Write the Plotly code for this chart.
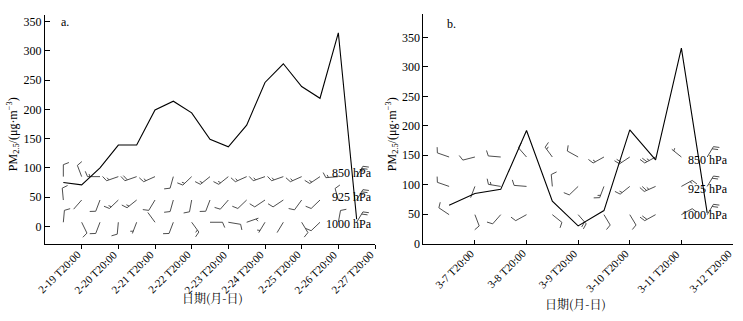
import math
import pandas as pd
import plotly.graph_objects as go

W, H = 743, 321

# ---------------- data ----------------
left_times = ["02-19 08:00", "02-19 20:00", "02-20 08:00", "02-20 20:00", "02-21 08:00",
              "02-21 20:00", "02-22 08:00", "02-22 20:00", "02-23 08:00", "02-23 20:00",
              "02-24 08:00", "02-24 20:00", "02-25 08:00", "02-25 20:00", "02-26 08:00",
              "02-26 20:00", "02-27 08:00"]
left_pm25 = [75, 71, 100, 139, 139, 199, 214, 194, 149, 136, 173, 246, 278, 239, 219, 331, 12]
left_tick_times = ["02-19 20:00", "02-20 20:00", "02-21 20:00", "02-22 20:00", "02-23 20:00",
                   "02-24 20:00", "02-25 20:00", "02-26 20:00", "02-27 20:00"]
left_tick_text = ["2-19 T20:00", "2-20 T20:00", "2-21 T20:00", "2-22 T20:00", "2-23 T20:00",
                  "2-24 T20:00", "2-25 T20:00", "2-26 T20:00", "2-27 T20:00"]
left_origin, left_end = "02-18 20:00", "02-27 20:00"

left_850_dir = [0, 340, 270, 250, 250, 245, 195, 225, 230, 230, 245, 250, 250, 245, 235, 265, 30]
left_850_spd = [4, 4, 6, 6, 8, 6, 4, 6, 6, 6, 6, 6, 6, 6, 6, 6, 10]
left_925_dir = [355, 220, 200, 225, 230, 210, 195, 190, 200, 220, 225, 235, 235, 215, 225, 345, 30]
left_925_spd = [4, 1, 4, 6, 6, 4, 4, 4, 4, 4, 4, 4, 4, 4, 4, 4, 10]
left_1000_dir = [5, 155, 200, 185, 200, 325, 200, 145, 90, 100, 70, 210, 210, 150, 225, 10, 30]
left_1000_spd = [4, 4, 4, 4, 2, 1, 4, 6, 4, 4, 2, 2, 1, 4, 4, 4, 8]

right_times = ["03-07 08:00", "03-07 20:00", "03-08 08:00", "03-08 20:00", "03-09 08:00",
               "03-09 20:00", "03-10 08:00", "03-10 20:00", "03-11 08:00", "03-11 20:00",
               "03-12 08:00"]
right_pm25 = [65, 85, 92, 192, 72, 30, 56, 193, 142, 332, 52]
right_tick_times = ["03-07 20:00", "03-08 20:00", "03-09 20:00", "03-10 20:00",
                    "03-11 20:00", "03-12 20:00"]
right_tick_text = ["3-7 T20:00", "3-8 T20:00", "3-9 T20:00", "3-10 T20:00",
                   "3-11 T20:00", "3-12 T20:00"]
right_origin, right_end = "03-06 20:00", "03-12 20:00"

right_850_dir = [290, 255, 275, 320, 325, 300, 240, 235, 240, 310, 30]
right_850_spd = [4, 4, 4, 4, 6, 4, 6, 8, 10, 2, 8]
right_925_dir = [290, 200, 280, 275, 355, 225, 200, 230, 245, 60, 30]
right_925_spd = [4, 1, 6, 4, 4, 4, 6, 6, 10, 6, 8]
right_1000_dir = [305, 160, 220, 240, 130, 140, 150, 150, 240, 60, 30]
right_1000_spd = [4, 4, 4, 4, 4, 8, 4, 4, 8, 4, 8]

levels = ["850 hPa", "925 hPa", "1000 hPa"]
left_level_y = [85, 45, 7]
right_level_y = [147, 97, 49]
left_label_y = [92, 50, 4]
right_label_y = [142, 93, 48]

left_yticks = [0, 50, 100, 150, 200, 250, 300, 350]
right_yticks = [0, 50, 100, 150, 200, 250, 300, 350]

# ---------------- geometry ----------------
left_xdom = [45 / W, 375 / W]
right_xdom = [423.3 / W, 733 / W]
left_ydom = [(H - 248.3) / H, (H - 8) / H]
right_ydom = [(H - 247.3) / H, (H - 7.3) / H]
left_yrange = [-31, 362]
right_yrange = [0, 390]

SERIF = "Liberation Serif, Times New Roman, Times, DejaVu Serif, serif"
CJK = "Noto Serif CJK SC, Noto Sans CJK SC, sans-serif"


def days(t, origin):
    return (pd.Timestamp("2014-" + t) - pd.Timestamp("2014-" + origin)) / pd.Timedelta(days=1)


def barbs(xs, y0, dirs, spds, px_x, px_y):
    X, Y = [], []
    L, F, gap = 12.5, 6.0, 2.6
    for x0, d, s in zip(xs, dirs, spds):
        r = math.radians(d)
        ux, uy = math.sin(r), math.cos(r)
        a = math.radians(68)
        fx, fy = ux * math.cos(a) + uy * math.sin(a), -ux * math.sin(a) + uy * math.cos(a)
        ex, ey = L * ux, L * uy
        X += [x0, x0 + ex / px_x, None]
        Y += [y0, y0 + ey / px_y, None]
        nfull, half = int(s // 4), (s % 4) >= 2
        pos = L
        for i in range(nfull):
            bx, by = pos * ux, pos * uy
            X += [x0 + bx / px_x, x0 + (bx + F * fx) / px_x, None]
            Y += [y0 + by / px_y, y0 + (by + F * fy) / px_y, None]
            pos -= gap
        if half:
            if nfull == 0:
                pos -= gap
            bx, by = pos * ux, pos * uy
            X += [x0 + bx / px_x, x0 + (bx + F / 2 * fx) / px_x, None]
            Y += [y0 + by / px_y, y0 + (by + F / 2 * fy) / px_y, None]
    return X, Y


fig = go.Figure()

panels = [
    dict(times=left_times, pm=left_pm25, origin=left_origin, end=left_end,
         ticks=left_tick_times, ticktext=left_tick_text, xdom=left_xdom, ydom=left_ydom,
         yrange=left_yrange, yticks=left_yticks, levy=left_level_y, laby=left_label_y,
         winds=[(left_850_dir, left_850_spd), (left_925_dir, left_925_spd),
                (left_1000_dir, left_1000_spd)],
         xa="x", ya="y", label_px=374, tag="a.", tagpx=(59, 16), xtitle=(212, 304), ytitle=(13, 133),
         xticks_dir="outside", toptick=False, axis_px=248.3),
    dict(times=right_times, pm=right_pm25, origin=right_origin, end=right_end,
         ticks=right_tick_times, ticktext=right_tick_text, xdom=right_xdom, ydom=right_ydom,
         yrange=right_yrange, yticks=right_yticks, levy=right_level_y, laby=right_label_y,
         winds=[(right_850_dir, right_850_spd), (right_925_dir, right_925_spd),
                (right_1000_dir, right_1000_spd)],
         xa="x2", ya="y2", label_px=730, tag="b.", tagpx=(445, 18), xtitle=(575, 310), ytitle=(392, 133),
         xticks_dir="inside", toptick=True, axis_px=247.3),
]

annotations = []
for i, p in enumerate(panels):
    xs = [days(t, p["origin"]) for t in p["times"]]
    xmax = days(p["end"], p["origin"])
    px_x = (p["xdom"][1] - p["xdom"][0]) * W / xmax
    px_y = (p["ydom"][1] - p["ydom"][0]) * H / (p["yrange"][1] - p["yrange"][0])
    for (dirs, spds), ly in zip(p["winds"], p["levy"]):
        bx, by = barbs(xs, ly, dirs, spds, px_x, px_y)
        fig.add_trace(go.Scatter(x=bx, y=by, mode="lines", xaxis=p["xa"], yaxis=p["ya"],
                                 line=dict(color="#3a3a3a", width=0.9), hoverinfo="skip",
                                 showlegend=False))
    fig.add_trace(go.Scatter(x=xs, y=p["pm"], mode="lines", xaxis=p["xa"], yaxis=p["ya"],
                             line=dict(color="black", width=1.1), showlegend=False))
    lab_x = (p["label_px"] - p["xdom"][0] * W) / px_x
    for name, ty in zip(levels, p["laby"]):
        annotations.append(dict(x=lab_x, y=ty, xref=p["xa"], yref=p["ya"], text=name,
                                showarrow=False, xanchor="right", yanchor="middle",
                                font=dict(family=SERIF, size=12, color="black")))
    annotations.append(dict(x=p["tagpx"][0] / W, y=1 - p["tagpx"][1] / H, xref="paper", yref="paper",
                            text=p["tag"], showarrow=False, xanchor="left", yanchor="middle",
                            font=dict(family=SERIF, size=12, color="black")))
    annotations.append(dict(x=p["xtitle"][0] / W, y=1 - p["xtitle"][1] / H, xref="paper", yref="paper",
                            text="日期(月-日)", showarrow=False, xanchor="center", yanchor="middle",
                            font=dict(family=CJK, size=12, color="black")))
    annotations.append(dict(x=p["ytitle"][0] / W, y=1 - p["ytitle"][1] / H, xref="paper", yref="paper",
                            text="PM<sub>2.5</sub>/(μg·m<sup>−3</sup>)", showarrow=False, textangle=-90,
                            xanchor="center", yanchor="middle",
                            font=dict(family=SERIF, size=12, color="black")))

    tickx = [days(t, p["origin"]) for t in p["ticks"]]
    # rotated tick labels as annotations, anchored at their upper-right corner
    for tx, tt in zip(tickx, p["ticktext"]):
        xpx = p["xdom"][0] * W + tx * px_x
        annotations.append(dict(x=(xpx + 4) / W, y=1 - (p["axis_px"] + 1) / H, xref="paper", yref="paper",
                                text=tt, showarrow=False, textangle=-45, xanchor="right", yanchor="top",
                                font=dict(family=SERIF, size=11, color="black")))
    xax = dict(domain=p["xdom"], range=[0, xmax], tickmode="array", tickvals=tickx,
               showticklabels=False, showline=True, linecolor="black", linewidth=1,
               ticks=p["xticks_dir"], ticklen=4, tickcolor="black", showgrid=False, zeroline=False,
               anchor=p["ya"])
    yvals = list(p["yticks"])
    ytext = [str(v) for v in p["yticks"]]
    if p["toptick"]:
        yvals.append(p["yrange"][1])
        ytext.append(" ")
    yax = dict(domain=p["ydom"], range=p["yrange"], tickmode="array", tickvals=yvals, ticktext=ytext,
               showline=True, linecolor="black", linewidth=1, ticks="inside", ticklen=5,
               tickcolor="black", showgrid=False, zeroline=False,
               tickfont=dict(family=SERIF, size=12, color="black"), anchor=p["xa"])
    if i == 0:
        fig.update_layout(xaxis=xax, yaxis=yax)
    else:
        fig.update_layout(xaxis2=xax, yaxis2=yax)

fig.update_layout(width=W, height=H, margin=dict(l=0, r=0, t=0, b=0),
                  paper_bgcolor="white", plot_bgcolor="white", annotations=annotations,
                  showlegend=False)
fig.write_html("out.html", config={"displayModeBar": False},
               post_script="document.body.style.margin='0px';document.body.style.padding='0px';")
